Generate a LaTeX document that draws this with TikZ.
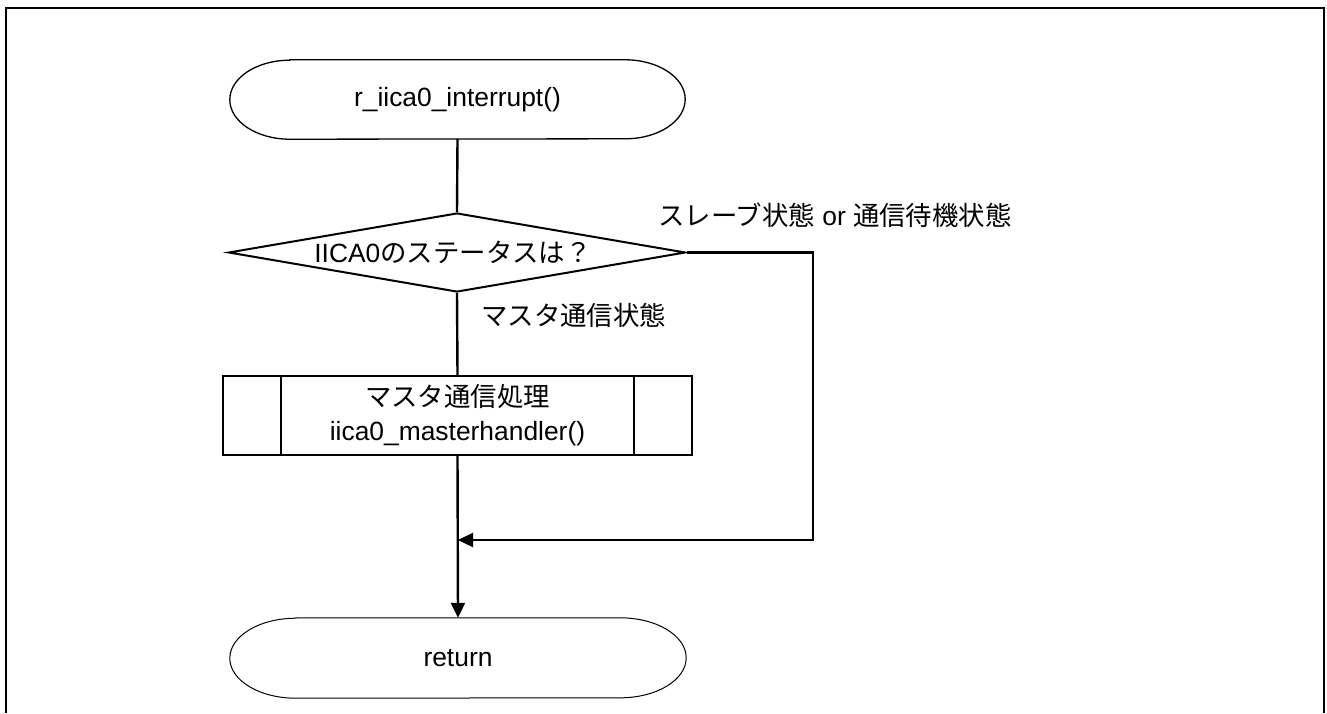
\documentclass[tikz,border=0pt]{standalone}
\usepackage{fontspec}
\setmainfont{Liberation Sans}
\newfontfamily\cjk{Noto Sans CJK JP}
\usetikzlibrary{shapes.geometric,arrows.meta}
\tikzset{
  txt/.style={font=\fontsize{26.4}{33}\selectfont, inner sep=0pt, align=center},
  termbox/.style={draw=none, minimum width=455pt, minimum height=79pt, inner sep=0pt, txt},
  decbox/.style={draw, line width=2pt, shape=diamond, minimum width=457pt, minimum height=79pt, inner sep=0pt},
  procbox/.style={draw, line width=1.6pt, minimum width=469pt, minimum height=79pt, inner sep=0pt, txt},
  conn/.style={line width=2.4pt},
  arr/.style={conn, -{Triangle[length=15pt,width=14pt]}},
}
\begin{document}
\begin{tikzpicture}[x=1pt,y=-1pt]
\useasboundingbox (0,0) rectangle (1327,713);
% frame
\draw[line width=2.2pt] (6,713) -- (6,8) -- (1324,8) -- (1324,713);

% start terminal
\node[termbox] (t) at (457.5,99.5) {r\_iica0\_interrupt()};
\draw[line width=1.3pt] ([xshift=60pt]t.north west) -- ([xshift=-60pt]t.north east)
  arc[start angle=90,end angle=-90,x radius=60pt,y radius=39.5pt]
  -- ([xshift=60pt]t.south west)
  arc[start angle=270,end angle=90,x radius=60pt,y radius=39.5pt] -- cycle;

% decision
\node[decbox] (d) at (457,252.5) {};
\node[txt] (dt) at (453,252.5) {IICA0{\cjk のステータスは？}};
\node[txt, anchor=west] (ly) at (658,215) {{\cjk スレーブ状態} or {\cjk 通信待機状態}};
\node[txt, anchor=west] (ln) at (481,315) {{\cjk マスタ通信状態}};

% predefined process
\node[procbox] (p) at (457.5,415.5) {{\cjk マスタ通信処理}\\[1pt]iica0\_masterhandler()};
\draw[line width=1.6pt] ([xshift=59pt]p.north west) -- ([xshift=59pt]p.south west);
\draw[line width=1.6pt] ([xshift=-59pt]p.north east) -- ([xshift=-59pt]p.south east);

% return terminal
\node[termbox, minimum width=456pt, minimum height=80pt] (r) at (458,658) {return};
\draw[line width=1pt] ([xshift=66pt]r.north west) -- ([xshift=-66pt]r.north east)
  arc[start angle=90,end angle=-90,x radius=66pt,y radius=40pt]
  -- ([xshift=66pt]r.south west)
  arc[start angle=270,end angle=90,x radius=66pt,y radius=40pt] -- cycle;

% connectors
\coordinate (m) at (458,540);
\coordinate (c2) at (813,540);
\draw[conn] (t.south) -- (d.north);
\draw[conn] (d.south) -- (p.north);
\draw[arr] (p.south) -- (r.north);
\draw[arr] (d.east) -| (c2) -- (m);
\end{tikzpicture}
\end{document}
